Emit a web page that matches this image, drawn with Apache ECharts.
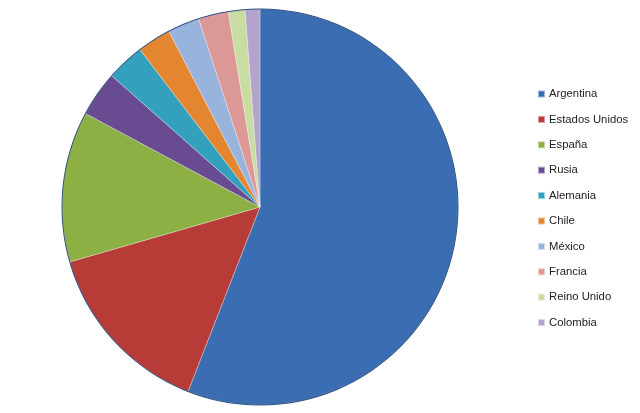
<!DOCTYPE html>
<html><head><meta charset="utf-8">
<script src="https://cdn.jsdelivr.net/npm/echarts@6/dist/echarts.min.js"></script>
<style>html,body{margin:0;padding:0;background:#fff}#c{width:640px;height:413px}</style>
</head><body><div id="c"></div>
<script>
const categories = ["Argentina","Estados Unidos","España","Rusia","Alemania","Chile","México","Francia","Reino Unido","Colombia"];
const values = [55.9,14.6,12.3,3.7,3.1,2.75,2.6,2.45,1.36,1.2];
const colors = ["#3A6DB1","#B73B37","#8CB043","#694B91","#33A0BD","#E3862F","#98B4DC","#DC9897","#C9DCA2","#B3A3CD"];
const chart = echarts.init(document.getElementById('c'), null, {renderer:'canvas'});
chart.setOption({
  animation:false,
  color: colors,
  legend:{
    orient:'vertical', left:532, top:82,
    icon:'rect', itemWidth:7, itemHeight:7, itemGap:11.4,
    textStyle:{fontFamily:'Liberation Sans, Arial', fontSize:11.3, color:'#222', lineHeight:14, padding:[0,0,0,-1]},
    data: categories
  },
  series:[{
    type:'pie', center:[260,207], radius:198, startAngle:90, clockwise:true,
    label:{show:false}, labelLine:{show:false},
    itemStyle:{borderColor:'rgba(255,255,255,0.5)', borderWidth:0.6},
    emphasis:{disabled:true},
    data: categories.map((n,i)=>({name:n, value:values[i]}))
  },{
    type:'pie', center:[260,207], radius:[197.5,198.5], silent:true,
    label:{show:false}, labelLine:{show:false},
    itemStyle:{color:'#2C4F80'},
    data:[{value:1, name:'_edge'}]
  }]
});
</script></body></html>
